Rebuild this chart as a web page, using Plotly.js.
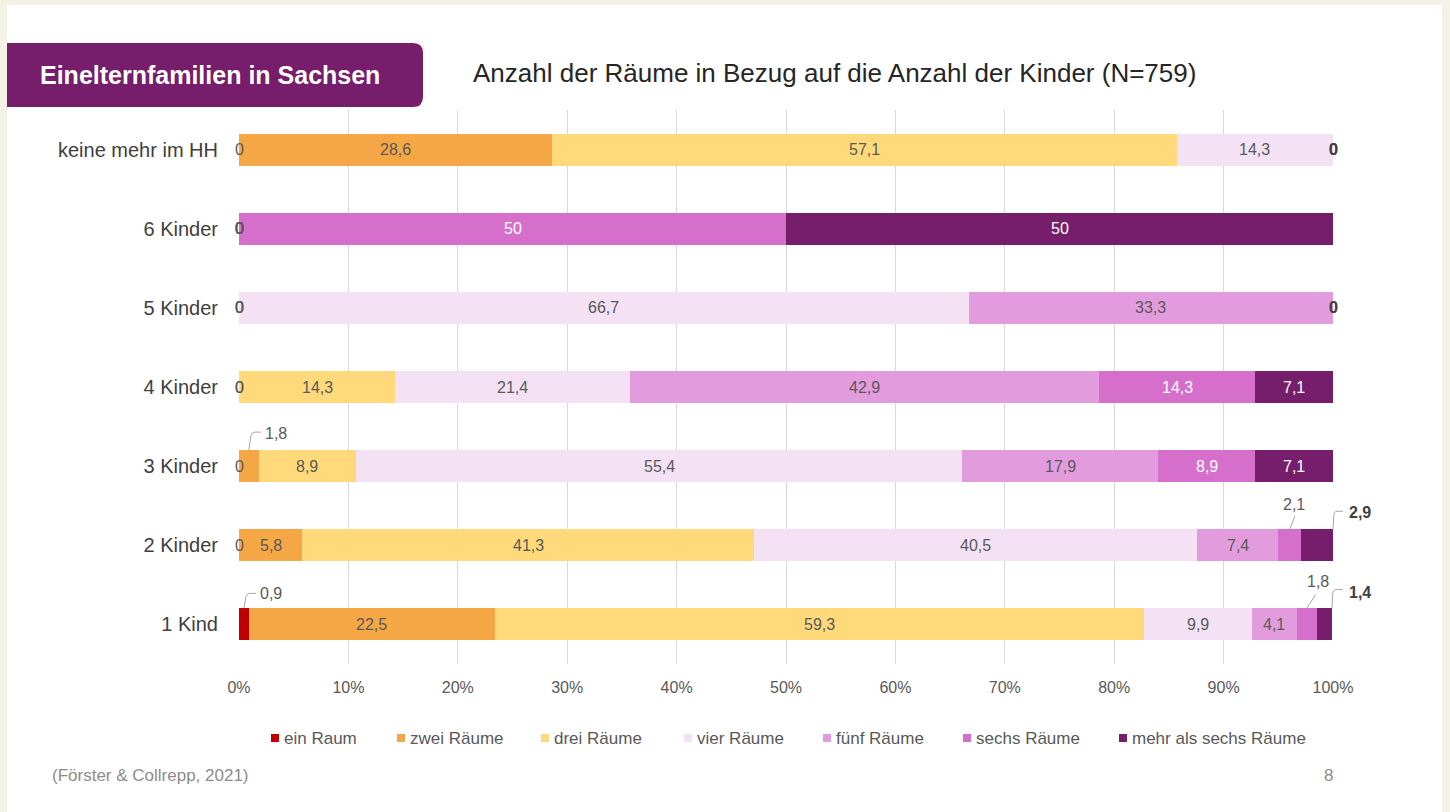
<!DOCTYPE html>
<html><head><meta charset="utf-8">
<script src="https://cdn.plot.ly/plotly-3.0.1.min.js"></script>
<style>html,body{margin:0;padding:0;background:#F4F1E5;}#chart{width:1450px;height:812px;}</style>
</head><body><div id="chart"></div>
<script>
// ---------------- data ----------------
const categories = ['1 Kind', '2 Kinder', '3 Kinder', '4 Kinder', '5 Kinder', '6 Kinder', 'keine mehr im HH'];
const seriesNames = ['ein Raum', 'zwei Räume', 'drei Räume', 'vier Räume', 'fünf Räume', 'sechs Räume', 'mehr als sechs Räume'];
const einRaum     = [0.9, 0,    0,    0,    0,    0,  0];
const zweiRaeume  = [22.5, 5.8, 1.8,  0,    0,    0,  28.6];
const dreiRaeume  = [59.3, 41.3, 8.9, 14.3, 0,    0,  57.1];
const vierRaeume  = [9.9, 40.5, 55.4, 21.4, 66.7, 0,  14.3];
const fuenfRaeume = [4.1, 7.4, 17.9,  42.9, 33.3, 0,  0];
const sechsRaeume = [1.8, 2.1, 8.9,   14.3, 0,    50, 0];
const mehrRaeume  = [1.4, 2.9, 7.1,   7.1,  0,    50, 0];
const xTickVals = [0, 10, 20, 30, 40, 50, 60, 70, 80, 90, 100];
const xTickText = ['0%', '10%', '20%', '30%', '40%', '50%', '60%', '70%', '80%', '90%', '100%'];
const chartTitle = 'Anzahl der Räume in Bezug auf die Anzahl der Kinder (N=759)';
const boxTitle = 'Einelternfamilien in Sachsen';
const sourceText = '(Förster & Collrepp, 2021)';
const pageNumber = '8';

// ---------------- styles ----------------
const seriesValues = [einRaum, zweiRaeume, dreiRaeume, vierRaeume, fuenfRaeume, sechsRaeume, mehrRaeume];
const colors = ['#C00000', '#F5A645', '#FFD97A', '#F4E1F4', '#E29CDD', '#D66FCB', '#761D6B'];
const insideLabelColors = ['#ffffff', '#595959', '#595959', '#595959', '#595959', '#ffffff', '#ffffff'];
const FONT = 'Liberation Sans, Arial, sans-serif';
const W = 1450, H = 812, L = 239, R = 117, T = 110, B = 148;
const PW = W - L - R, PH = H - T - B;
const BAR_W = 0.405;
const X_RANGE = [0, 100], Y_RANGE = [-0.5, 6.5];
const px = x => (x - L) / PW;
const py = y => (H - B - y) / PH;
// data -> paper fraction through the axis ranges (so leader lines are not clipped)
const dx2paper = v => (v - X_RANGE[0]) / (X_RANGE[1] - X_RANGE[0]);
const dy2paper = v => (v - Y_RANGE[0]) / (Y_RANGE[1] - Y_RANGE[0]);

// callouts: category index, series index, anchor, leader path (pixels, y up), text offset
const callouts = [
  {c: 0, s: 0, at: 'mid', path: 'M0,0 L2,12 Q3,15 6,15 L12,15', dx: 27, dy: 15},
  {c: 2, s: 1, at: 'mid', path: 'M0,0 L2,14 Q3,18 6,18 L12,18', dx: 27, dy: 17},
  {c: 1, s: 5, at: 'mid', path: 'M0,0 L5,13', dx: 4, dy: 25},
  {c: 1, s: 6, at: 'end', path: 'M0,0 L1,16 Q2,18 4,18 L10,18', dx: 27, dy: 17},
  {c: 0, s: 5, at: 'mid', path: 'M0,0 L9,14', dx: 11, dy: 27},
  {c: 0, s: 6, at: 'end', path: 'M0,0 L1,16 Q2,19 5,19 L11,19', dx: 28, dy: 16}
];
const legendX = [275, 401, 545, 688, 827, 967, 1123];
const legendY = 738;

const yIdx = categories.map((c, i) => i);
const traces = seriesNames.map((name, s) => ({
  type: 'bar', orientation: 'h', name: name,
  x: seriesValues[s], y: yIdx, width: BAR_W,
  marker: {color: colors[s], line: {width: 0}},
  hoverinfo: 'x+name', showlegend: false
}));

const fmt = v => String(v).replace('.', ',');
const annotations = [];
const shapes = [];

// white panel
shapes.push({type: 'rect', xref: 'paper', yref: 'paper', layer: 'below',
  x0: px(7), x1: px(1442), y0: py(830), y1: py(5), fillcolor: '#ffffff', line: {width: 0}});
// purple title box with rounded right corners
(function () {
  const x0 = px(7), x1 = px(423), xr = px(413), y0 = py(43), y1 = py(107), yt = py(53), yb = py(97);
  shapes.push({type: 'path', xref: 'paper', yref: 'paper', layer: 'above',
    path: `M${x0},${y0} L${xr},${y0} Q${x1},${y0} ${x1},${yt} L${x1},${yb} Q${x1},${y1} ${xr},${y1} L${x0},${y1} Z`,
    fillcolor: '#761D6B', line: {width: 0}});
})();
annotations.push({xref: 'paper', yref: 'paper', x: px(210), y: py(75), text: '<b>' + boxTitle + '</b>',
  showarrow: false, xanchor: 'center', yanchor: 'middle', font: {family: FONT, size: 25, color: '#ffffff'}});
annotations.push({xref: 'paper', yref: 'paper', x: px(834), y: py(73), text: chartTitle,
  showarrow: false, xanchor: 'center', yanchor: 'middle', font: {family: FONT, size: 26, color: '#262626'}});
annotations.push({xref: 'paper', yref: 'paper', x: px(50), y: py(775), text: sourceText,
  showarrow: false, xanchor: 'left', yanchor: 'middle', font: {family: FONT, size: 17, color: '#8c8c8c'}});
annotations.push({xref: 'paper', yref: 'paper', x: px(1328), y: py(775), text: pageNumber,
  showarrow: false, xanchor: 'center', yanchor: 'middle', font: {family: FONT, size: 17, color: '#8c8c8c'}});

// legend
seriesNames.forEach((name, s) => {
  const lx = legendX[s];
  shapes.push({type: 'rect', xref: 'paper', yref: 'paper', x0: px(lx - 4), x1: px(lx + 4),
    y0: py(legendY + 4), y1: py(legendY - 4), fillcolor: colors[s], line: {width: 0}});
  annotations.push({xref: 'paper', yref: 'paper', x: px(lx + 7), y: py(legendY), text: name,
    showarrow: false, xanchor: 'left', yanchor: 'middle', font: {family: FONT, size: 17, color: '#595959'}});
});

// bar labels
categories.forEach((cat, c) => {
  let cum = 0;
  seriesValues.forEach((vals, s) => {
    const v = vals[c];
    const start = cum, end = cum + v;
    cum = end;
    const co = callouts.find(o => o.c === c && o.s === s);
    const isLast = s === seriesValues.length - 1;
    if (co) {
      const ax = co.at === 'end' ? end : (start + end) / 2;
      const ay = c + BAR_W / 2;
      shapes.push({type: 'path', xref: 'paper', yref: 'paper', xsizemode: 'pixel', ysizemode: 'pixel',
        xanchor: dx2paper(ax), yanchor: dy2paper(ay), path: co.path, line: {color: '#a6a6a6', width: 1}});
      annotations.push({x: ax, y: ay, xref: 'x', yref: 'y', xshift: co.dx, yshift: co.dy,
        text: isLast ? '<b>' + fmt(v) + '</b>' : fmt(v), showarrow: false,
        font: {family: FONT, size: 16, color: isLast ? '#404040' : '#595959'}});
    } else if (v === 0) {
      annotations.push({x: start, y: c, xref: 'x', yref: 'y', text: isLast ? '<b>0</b>' : '0', showarrow: false,
        font: {family: FONT, size: 16, color: isLast ? '#404040' : '#595959'}});
    } else {
      annotations.push({x: (start + end) / 2, y: c, xref: 'x', yref: 'y', text: fmt(v), showarrow: false,
        font: {family: FONT, size: 16, color: insideLabelColors[s]}});
    }
  });
});

const layout = {
  width: W, height: H,
  margin: {l: L, r: R, t: T, b: B, pad: 0},
  paper_bgcolor: '#F4F1E5', plot_bgcolor: 'rgba(0,0,0,0)',
  barmode: 'stack', showlegend: false,
  font: {family: FONT},
  xaxis: {range: X_RANGE, tickvals: xTickVals, ticktext: xTickText, showgrid: true, gridcolor: '#d9d9d9',
    gridwidth: 1, zeroline: false, showline: false, ticks: '', ticklabelstandoff: 12,
    tickfont: {family: FONT, size: 16, color: '#595959'}, fixedrange: true},
  yaxis: {range: Y_RANGE, tickvals: yIdx, ticktext: categories, showgrid: false, zeroline: false,
    showline: false, ticks: '', ticklabelstandoff: 20,
    tickfont: {family: FONT, size: 20, color: '#404040'}, fixedrange: true},
  shapes: shapes, annotations: annotations
};
Plotly.newPlot('chart', traces, layout, {displayModeBar: false, staticPlot: true});
</script></body></html>
